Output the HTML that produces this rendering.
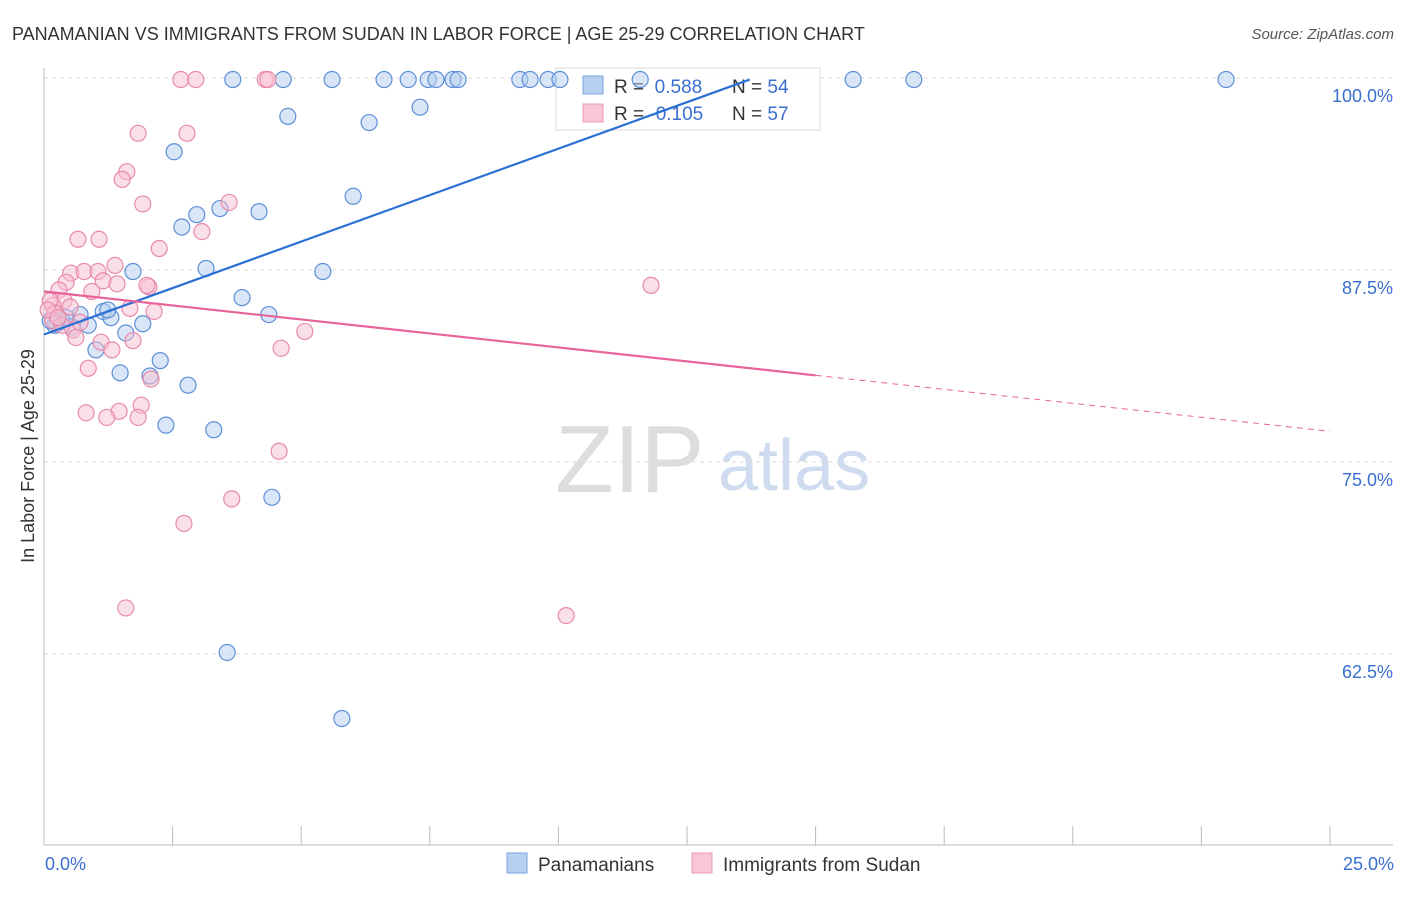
<!DOCTYPE html>
<html><head><meta charset="utf-8"><style>
body{margin:0;background:#fff;font-family:"Liberation Sans",sans-serif}
svg text{font-family:"Liberation Sans",sans-serif}
</style></head><body>
<svg id="c" width="1406" height="892">
<text x="12" y="40" font-size="18" fill="#333">PANAMANIAN VS IMMIGRANTS FROM SUDAN IN LABOR FORCE | AGE 25-29 CORRELATION CHART</text>
<text x="1394" y="39" font-size="15" fill="#555" font-style="italic" text-anchor="end">Source: ZipAtlas.com</text>
<text x="34" y="456" font-size="18" fill="#333" text-anchor="middle" transform="rotate(-90 34 456)">In Labor Force | Age 25-29</text>
<text x="555" y="492" font-size="96" fill="#ddd" font-family="Liberation Serif">ZIP</text>
<text x="718" y="490" font-size="72" fill="#cfdcf0">atlas</text>
<g id="grid"></g>
<g>
<rect x="556" y="68" width="264" height="62" fill="#fff" fill-opacity="0.85" stroke="#ddd"/>
<rect x="583" y="76" width="20" height="18" fill="#b8d0f0" stroke="#7aa3dc"/>
<rect x="583" y="104" width="20" height="18" fill="#f8c6d6" stroke="#e99ab4"/>
<text x="614" y="93" font-size="19" fill="#333">R = <tspan fill="#3a6fd0">&#160;0.588</tspan><tspan x="732">N = </tspan><tspan fill="#3a6fd0">54</tspan></text>
<text x="614" y="120" font-size="19" fill="#333">R = <tspan fill="#3a6fd0">-0.105</tspan><tspan x="732">N = </tspan><tspan fill="#3a6fd0">57</tspan></text>
</g>
<g id="pts"></g><g id="lines"></g>
<g>
<rect x="507" y="853" width="20" height="20" fill="#b8d0f0" stroke="#7aa3dc"/>
<text x="538" y="871" font-size="19" fill="#333">Panamanians</text>
<rect x="692" y="853" width="20" height="20" fill="#f8c6d6" stroke="#e99ab4"/>
<text x="723" y="871" font-size="19" fill="#333">Immigrants from Sudan</text>
</g>
<text x="45" y="870" font-size="18" fill="#3a6fd0">0.0%</text>
<text x="1394" y="870" font-size="18" fill="#3a6fd0" text-anchor="end">25.0%</text>
</svg>
<script>
const yTicks=[100,87.5,75,62.5];
const yTickLabels=["100.0%","87.5%","75.0%","62.5%"];
const blueX=[3.67,4.65,5.60,6.61,7.08,7.47,7.62,7.95,8.05,9.25,9.45,9.80,10.03,11.59,15.73,16.91,22.98,4.74,6.32,7.31,2.53,6.01,2.68,2.97,3.42,4.18,1.73,3.15,5.42,3.85,4.37,0.25,0.35,0.70,0.86,1.15,1.30,1.92,1.59,1.01,2.26,1.48,2.06,2.80,2.37,3.30,4.43,3.56,5.79,0.21,0.54,0.12,0.43,1.24];
const blueY=[99.9,99.9,99.9,99.9,99.9,99.9,99.9,99.9,99.9,99.9,99.9,99.9,99.9,99.9,99.9,99.9,99.9,97.5,97.1,98.1,95.2,92.3,90.3,91.1,91.5,91.3,87.4,87.6,87.4,85.7,84.6,84.0,84.2,84.6,83.9,84.8,84.4,84.0,83.4,82.3,81.6,80.8,80.6,80.0,77.4,77.1,72.7,62.6,58.3,83.9,83.8,84.2,84.4,84.9];
const pinkX=[2.66,2.95,4.30,4.35,1.83,2.78,1.61,1.52,1.92,3.60,3.07,0.66,1.07,2.24,0.52,0.78,1.05,1.38,1.15,1.42,0.43,0.29,0.93,2.04,2.00,0.39,0.17,0.51,1.67,2.14,0.12,0.21,0.56,0.62,1.11,1.32,1.73,4.61,5.07,0.86,2.08,1.89,0.82,1.46,1.22,1.83,4.57,3.65,2.72,1.59,10.15,11.80,0.17,0.35,0.70,0.08,0.27];
const pinkY=[99.9,99.9,99.9,99.9,96.4,96.4,93.9,93.4,91.8,91.9,90.0,89.5,89.5,88.9,87.3,87.4,87.4,87.8,86.8,86.6,86.7,86.2,86.1,86.4,86.5,85.5,85.2,85.1,85.0,84.8,85.5,84.7,83.6,83.1,82.8,82.3,82.9,82.4,83.5,81.1,80.4,78.7,78.2,78.3,77.9,77.9,75.7,72.6,71.0,65.5,65.0,86.5,84.2,83.9,84.1,84.9,84.4];
const blueFit=[83.3,1.21];
const pinkFit=[86.1,-0.364];
const X=v=>44+v*51.44, Y=v=>78+(100-v)*15.36;
const NS="http://www.w3.org/2000/svg";
function mk(t,a,p){const e=document.createElementNS(NS,t);for(const k in a)e.setAttribute(k,a[k]);p.appendChild(e);return e;}
const g=document.getElementById('grid'),pg=document.getElementById('pts'),lg=document.getElementById('lines');
yTicks.forEach((t,i)=>{
 const l=mk('line',{x1:44,x2:1393,y1:Y(t),y2:Y(t),stroke:'#ddd','stroke-dasharray':'4 4'},g);
 
 
 const tx=mk('text',{x:1393,y:Y(t)+24,'font-size':18,fill:'#3a6fd0','text-anchor':'end'},g);
 tx.textContent=yTickLabels[i];
 
 
});
const ax=mk('line',{x1:44,x2:1393,y1:845,y2:845,stroke:'#bbb'},g);


const ay=mk('line',{x1:44,x2:44,y1:68,y2:845,stroke:'#bbb'},g);


for(let i=1;i<=10;i++){const t=mk('line',{x1:X(i*2.5),x2:X(i*2.5),y1:826,y2:845,stroke:'#bbb'},g);
 
 }
function pts(xs,ys,f,s,n){xs.forEach((x,i)=>{const c=mk('circle',{cx:X(x),cy:Y(ys[i]),r:8,fill:f,'fill-opacity':0.5,stroke:s,'stroke-width':1.2},pg);
 
 });}
pts(blueX,blueY,'#b3cdf0','#5d8fd8','panamanian-point');
pts(pinkX,pinkY,'#f8c0d2','#e88aab','sudan-point');
const bEnd=(99.9-blueFit[0])/blueFit[1];
const bl=mk('line',{x1:X(0),y1:Y(blueFit[0]),x2:X(bEnd),y2:Y(blueFit[0]+blueFit[1]*bEnd),stroke:'#2a6fd6','stroke-width':2.2},lg);


const pl=mk('line',{x1:X(0),y1:Y(pinkFit[0]),x2:X(15),y2:Y(pinkFit[0]+pinkFit[1]*15),stroke:'#e8649a','stroke-width':2.2},lg);


const pd=mk('line',{x1:X(15),y1:Y(pinkFit[0]+pinkFit[1]*15),x2:X(25),y2:Y(pinkFit[0]+pinkFit[1]*25),stroke:'#e8649a','stroke-width':1,'stroke-dasharray':'6 5'},lg);


</script>
</body></html>
